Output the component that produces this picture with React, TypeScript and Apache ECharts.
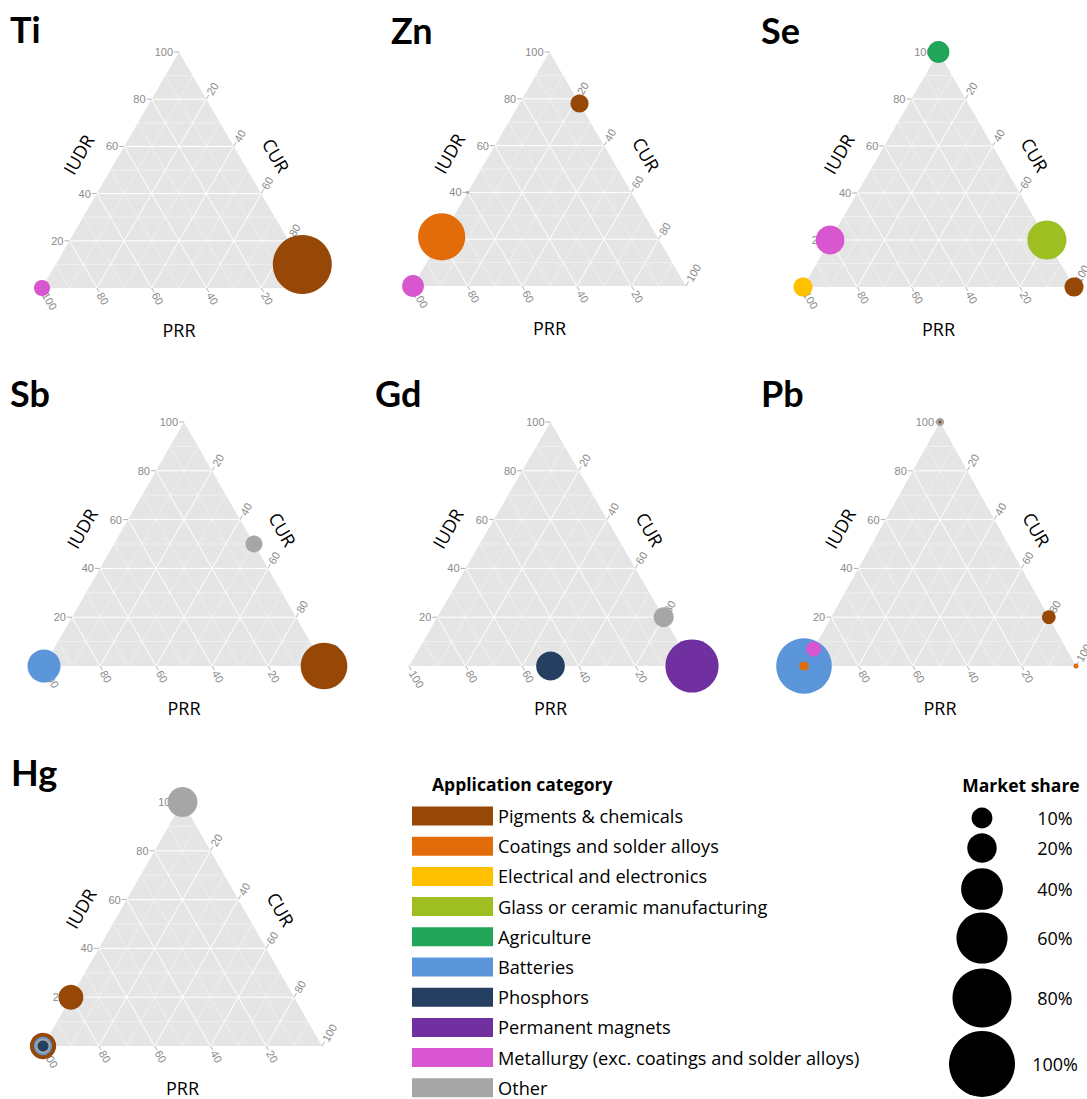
import React, { useEffect, useRef } from 'react';
import * as echarts from 'echarts';

// ---------- data ----------
const categories = [
  'Pigments & chemicals',
  'Coatings and solder alloys',
  'Electrical and electronics',
  'Glass or ceramic manufacturing',
  'Agriculture',
  'Batteries',
  'Phosphors',
  'Permanent magnets',
  'Metallurgy (exc. coatings and solder alloys)',
  'Other',
];
const categoryColors = [
  '#974806', '#E36C0A', '#FFC000', '#9EBE22', '#21A659',
  '#5B96DA', '#243F60', '#7030A0', '#D857D0', '#A6A6A6',
];

const elementNames = ['Ti', 'Zn', 'Se', 'Sb', 'Gd', 'Pb', 'Hg'];

// [categoryIndex, IUDR, CUR, PRR, market share %]
const tiPoints = [[0, 10, 90, 0, 80], [8, 0, 0, 100, 6]];
const znPoints = [[1, 21, 0, 79, 51], [8, 0, 0, 100, 11], [0, 78, 22, 0, 7.5], [9, 40, 0, 60, 0.2]];
const sePoints = [[3, 20, 80, 0, 35], [8, 20, 0, 80, 19], [4, 100, 0, 0, 11], [2, 0, 0, 100, 8.3], [0, 0, 100, 0, 8.3]];
const sbPoints = [[0, 0, 100, 0, 50], [5, 0, 0, 100, 25], [9, 50, 50, 0, 6.6]];
const gdPoints = [[7, 0, 100, 0, 65], [6, 0, 50, 50, 19], [9, 20, 80, 0, 9.2]];
const pbPoints = [[5, 0, 0, 100, 71], [8, 7, 0, 93, 5.2], [0, 20, 80, 0, 4.3], [9, 100, 0, 0, 1.6], [1, 0, 0, 100, 1.9], [1, 0, 100, 0, 0.6], [0, 100, 0, 0, 0.2]];
const hgPoints = [[9, 100, 0, 0, 20.7], [0, 0, 0, 100, 16], [0, 20, 0, 80, 14.3], [5, 0, 0, 100, 7.7], [9, 0, 0, 100, 5.2], [6, 0, 0, 100, 2.8]];
const elementPoints = [tiPoints, znPoints, sePoints, sbPoints, gdPoints, pbPoints, hgPoints];

const axisTicks = [20, 40, 60, 80, 100];
const gridSteps = [10, 20, 30, 40, 50, 60, 70, 80, 90];
const axisNames = ['IUDR', 'CUR', 'PRR'];

const shareLevels = [10, 20, 40, 60, 80, 100];
const shareLabels = ['10%', '20%', '40%', '60%', '80%', '100%'];

// ---------- layout ----------
const panelBoxes = [
  [42, 52, 274, 236], [413, 52, 273, 234], [803, 52, 271, 235],
  [44, 422, 280, 244], [409, 422, 283, 244], [804, 422, 272, 244],
  [43, 802, 279, 244],
];
const titleAnchors = [[10, 29], [391, 30], [761, 30], [10, 393], [375, 393], [761, 393], [11, 772]];
const shareLegendY = [818, 848, 889, 938, 998, 1064];

const FULL_SIZE = 66;
const sizeOf = (s: number) => FULL_SIZE * Math.sqrt(s / 100);

const TICK_FONT = '11px "Liberation Sans", Arial, sans-serif';
const TICK_COLOR = '#8A8A8A';
const BODY_FONT = '"Open Sans", Lato, sans-serif';
const TITLE_FONT = 'Lato, "Open Sans", sans-serif';

function txt(x: number, y: number, text: string, font: string, fill: string, align: string, vAlign: string, rotation = 0) {
  return {
    type: 'text', x, y, rotation,
    style: { text, font, fill, align, textAlign: align, verticalAlign: vAlign, textVerticalAlign: vAlign },
  };
}

function frameRender(_params: any, api: any) {
  const P = (i: number, c: number) => api.coord([c + i / 2, i]);
  const children: any[] = [];
  const top = P(100, 0), left = P(0, 0), right = P(0, 100);
  children.push({ type: 'polygon', shape: { points: [top, left, right] }, style: { fill: '#E5E5E5' } });
  gridSteps.forEach((v) => {
    const major = v % 20 === 0;
    const style = { stroke: major ? '#FFFFFF' : 'rgba(255,255,255,0.65)', lineWidth: major ? 1 : 0.6 };
    const segs = [
      [P(v, 0), P(v, 100 - v)],
      [P(0, v), P(100 - v, v)],
      [P(0, 100 - v), P(100 - v, 0)],
    ];
    segs.forEach(([a, b]) => children.push({ type: 'line', shape: { x1: a[0], y1: a[1], x2: b[0], y2: b[1] }, style }));
  });
  const tickStyle = { stroke: '#A0A0A0', lineWidth: 0.8 };
  const s60 = Math.sin(Math.PI / 3), c60 = 0.5;
  axisTicks.forEach((v) => {
    // IUDR (left edge)
    const a = P(v, 0);
    children.push({ type: 'line', shape: { x1: a[0], y1: a[1], x2: a[0] - 5, y2: a[1] }, style: tickStyle });
    children.push(txt(a[0] - 6, a[1], String(v), TICK_FONT, TICK_COLOR, 'right', 'middle'));
    // CUR (right edge)
    const b = P(100 - v, v);
    children.push({ type: 'line', shape: { x1: b[0], y1: b[1], x2: b[0] + 5 * c60, y2: b[1] - 5 * s60 }, style: tickStyle });
    children.push(txt(b[0] + 6 * c60, b[1] - 6 * s60, String(v), TICK_FONT, TICK_COLOR, 'left', 'middle', Math.PI / 3));
    // PRR (bottom edge)
    const d = P(0, 100 - v);
    children.push({ type: 'line', shape: { x1: d[0], y1: d[1], x2: d[0] + 5 * c60, y2: d[1] + 5 * s60 }, style: tickStyle });
    children.push(txt(d[0] + 6 * c60, d[1] + 6 * s60, String(v), TICK_FONT, TICK_COLOR, 'left', 'middle', -Math.PI / 3));
  });
  // axis titles
  const titleFont = '18px ' + BODY_FONT;
  const lm = [(top[0] + left[0]) / 2, (top[1] + left[1]) / 2];
  const rm = [(top[0] + right[0]) / 2, (top[1] + right[1]) / 2];
  children.push(txt(lm[0] - 37 * s60, lm[1] - 37 * c60 + 3, axisNames[0], titleFont, '#000', 'center', 'middle', Math.PI / 3));
  children.push(txt(rm[0] + 33 * s60, rm[1] - 33 * c60 + 2, axisNames[1], titleFont, '#000', 'center', 'middle', -Math.PI / 3));
  children.push(txt((left[0] + right[0]) / 2, left[1] + 42, axisNames[2], titleFont, '#000', 'center', 'middle'));
  return { type: 'group', children };
}

function buildOption() {
  const grid: any[] = [], xAxis: any[] = [], yAxis: any[] = [], series: any[] = [], graphic: any[] = [];
  panelBoxes.forEach((b, k) => {
    grid.push({ left: b[0], top: b[1], width: b[2], height: b[3], containLabel: false });
    xAxis.push({ type: 'value', gridIndex: k, min: 0, max: 100, show: false });
    yAxis.push({ type: 'value', gridIndex: k, min: 0, max: 100, show: false });
    series.push({
      type: 'custom', xAxisIndex: k, yAxisIndex: k, data: [[50, 50]], renderItem: frameRender,
      silent: true, z: 1, clip: false,
    });
    const pts = [...elementPoints[k]].sort((p, q) => q[4] - p[4]);
    pts.forEach((p) => {
      const [cat, i, c, r, s] = p;
      const sum = i + c + r;
      series.push({
        type: 'scatter', name: categories[cat], xAxisIndex: k, yAxisIndex: k,
        data: [[((c + i / 2) / sum) * 100, (i / sum) * 100, s]],
        symbol: 'circle', symbolSize: (val: number[]) => sizeOf(val[2]),
        itemStyle: { color: categoryColors[cat], opacity: 1 },
        clip: false, z: 3, silent: true,
      });
    });
    const t = titleAnchors[k];
    graphic.push(txt(t[0], t[1], elementNames[k], 'bold 36px ' + TITLE_FONT, '#000', 'left', 'middle'));
  });

  graphic.push(txt(432, 784, 'Application category', 'bold 17.5px ' + BODY_FONT, '#000', 'left', 'middle'));
  graphic.push(txt(1021, 785, 'Market share', 'bold 17.5px ' + BODY_FONT, '#000', 'center', 'middle'));
  shareLevels.forEach((s, j) => {
    graphic.push({ type: 'circle', shape: { cx: 982, cy: shareLegendY[j], r: sizeOf(s) / 2 }, style: { fill: '#000' } });
    graphic.push(txt(1055, shareLegendY[j], shareLabels[j], '18px ' + BODY_FONT, '#000', 'center', 'middle'));
  });

  return {
    animation: false,
    backgroundColor: '#FFFFFF',
    grid, xAxis, yAxis, series, graphic,
    legend: {
      data: categories,
      orient: 'vertical', left: 412, top: 806.5, bottom: 0, padding: 0,
      icon: 'rect', itemWidth: 81, itemHeight: 19, itemGap: 11.2,
      selectedMode: false,
      textStyle: { fontFamily: BODY_FONT, fontSize: 18.2, color: '#000', lineHeight: 19 },
    },
  };
}

export default function App() {
  const ref = useRef<HTMLDivElement>(null);
  useEffect(() => {
    if (!ref.current) return;
    const chart = echarts.init(ref.current, undefined, { renderer: 'svg' });
    chart.setOption(buildOption() as any);
    return () => chart.dispose();
  }, []);
  return <div ref={ref} style={{ position: 'fixed', left: 0, top: 0, width: 1087, height: 1099 }} />;
}
